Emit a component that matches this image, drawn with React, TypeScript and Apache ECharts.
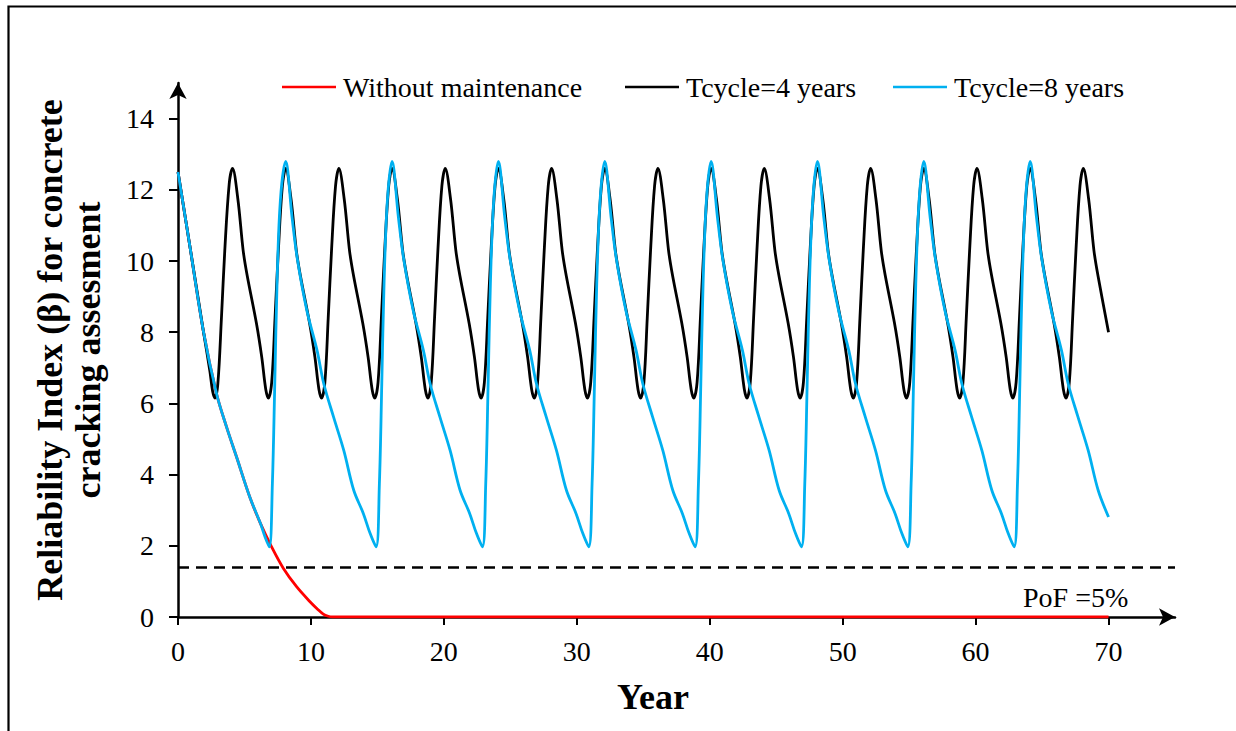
import React, { useEffect, useRef } from "react";
import * as echarts from "echarts";

// ---- data ----
const xTicks = [0, 10, 20, 30, 40, 50, 60, 70];
const yTicks = [0, 2, 4, 6, 8, 10, 12, 14];
const pofLevel = 1.4;

const seriesNames = ["Without maintenance", "Tcycle=4 years", "Tcycle=8 years"];

const withoutMaintenance: [number, number][] = [
  [0, 12.5], [0.9, 10.4], [1.9, 8.05], [2.9, 6.27], [3.65, 5.34], [4.4, 4.5], [5.4, 3.37],
  [6.2, 2.63], [7.04, 1.97], [7.92, 1.37], [8.92, 0.85], [9.93, 0.43], [10.5, 0.22],
  [10.93, 0.08], [11.3, 0.02], [11.6, 0], [70, 0],
];

const tcycle4: [number, number][] = [
  [0, 12.5], [0.9, 10.4], [1.9, 8.05], [2.4, 6.9], [2.6, 6.35], [2.78, 6.15], [3.0, 6.56], [3.27, 8.42], [3.52, 10.3], [3.85, 12.16],
  [4.1, 12.6], [4.5, 11.75], [4.9, 10.3], [5.2, 9.6], [5.9, 8.25], [6.3, 7.3], [6.6, 6.4], [6.8, 6.15], [7.05, 6.6], [7.3, 8.4], [7.55, 10.3], [7.85, 12.1],
  [8.1, 12.6], [8.5, 11.75], [8.9, 10.3], [9.2, 9.6], [9.9, 8.25], [10.3, 7.3], [10.6, 6.4], [10.8, 6.15], [11.05, 6.6], [11.3, 8.4], [11.55, 10.3], [11.85, 12.1],
  [12.1, 12.6], [12.5, 11.75], [12.9, 10.3], [13.2, 9.6], [13.9, 8.25], [14.3, 7.3], [14.6, 6.4], [14.8, 6.15], [15.05, 6.6], [15.3, 8.4], [15.55, 10.3], [15.85, 12.1],
  [16.1, 12.6], [16.5, 11.75], [16.9, 10.3], [17.2, 9.6], [17.9, 8.25], [18.3, 7.3], [18.6, 6.4], [18.8, 6.15], [19.05, 6.6], [19.3, 8.4], [19.55, 10.3], [19.85, 12.1],
  [20.1, 12.6], [20.5, 11.75], [20.9, 10.3], [21.2, 9.6], [21.9, 8.25], [22.3, 7.3], [22.6, 6.4], [22.8, 6.15], [23.05, 6.6], [23.3, 8.4], [23.55, 10.3], [23.85, 12.1],
  [24.1, 12.6], [24.5, 11.75], [24.9, 10.3], [25.2, 9.6], [25.9, 8.25], [26.3, 7.3], [26.6, 6.4], [26.8, 6.15], [27.05, 6.6], [27.3, 8.4], [27.55, 10.3], [27.85, 12.1],
  [28.1, 12.6], [28.5, 11.75], [28.9, 10.3], [29.2, 9.6], [29.9, 8.25], [30.3, 7.3], [30.6, 6.4], [30.8, 6.15], [31.05, 6.6], [31.3, 8.4], [31.55, 10.3], [31.85, 12.1],
  [32.1, 12.6], [32.5, 11.75], [32.9, 10.3], [33.2, 9.6], [33.9, 8.25], [34.3, 7.3], [34.6, 6.4], [34.8, 6.15], [35.05, 6.6], [35.3, 8.4], [35.55, 10.3], [35.85, 12.1],
  [36.1, 12.6], [36.5, 11.75], [36.9, 10.3], [37.2, 9.6], [37.9, 8.25], [38.3, 7.3], [38.6, 6.4], [38.8, 6.15], [39.05, 6.6], [39.3, 8.4], [39.55, 10.3], [39.85, 12.1],
  [40.1, 12.6], [40.5, 11.75], [40.9, 10.3], [41.2, 9.6], [41.9, 8.25], [42.3, 7.3], [42.6, 6.4], [42.8, 6.15], [43.05, 6.6], [43.3, 8.4], [43.55, 10.3], [43.85, 12.1],
  [44.1, 12.6], [44.5, 11.75], [44.9, 10.3], [45.2, 9.6], [45.9, 8.25], [46.3, 7.3], [46.6, 6.4], [46.8, 6.15], [47.05, 6.6], [47.3, 8.4], [47.55, 10.3], [47.85, 12.1],
  [48.1, 12.6], [48.5, 11.75], [48.9, 10.3], [49.2, 9.6], [49.9, 8.25], [50.3, 7.3], [50.6, 6.4], [50.8, 6.15], [51.05, 6.6], [51.3, 8.4], [51.55, 10.3], [51.85, 12.1],
  [52.1, 12.6], [52.5, 11.75], [52.9, 10.3], [53.2, 9.6], [53.9, 8.25], [54.3, 7.3], [54.6, 6.4], [54.8, 6.15], [55.05, 6.6], [55.3, 8.4], [55.55, 10.3], [55.85, 12.1],
  [56.1, 12.6], [56.5, 11.75], [56.9, 10.3], [57.2, 9.6], [57.9, 8.25], [58.3, 7.3], [58.6, 6.4], [58.8, 6.15], [59.05, 6.6], [59.3, 8.4], [59.55, 10.3], [59.85, 12.1],
  [60.1, 12.6], [60.5, 11.75], [60.9, 10.3], [61.2, 9.6], [61.9, 8.25], [62.3, 7.3], [62.6, 6.4], [62.8, 6.15], [63.05, 6.6], [63.3, 8.4], [63.55, 10.3], [63.85, 12.1],
  [64.1, 12.6], [64.5, 11.75], [64.9, 10.3], [65.2, 9.6], [65.9, 8.25], [66.3, 7.3], [66.6, 6.4], [66.8, 6.15], [67.05, 6.6], [67.3, 8.4], [67.55, 10.3], [67.85, 12.1],
  [68.1, 12.6], [68.5, 11.75], [68.9, 10.3], [69.2, 9.6], [70, 8.0],
];

const tcycle8: [number, number][] = [
  [0, 12.5], [0.9, 10.4], [1.9, 8.05], [2.9, 6.27], [3.65, 5.34], [4.4, 4.5], [5.4, 3.37], [6.2, 2.63], [6.55, 2.25], [6.87, 1.97], [7.1, 3.75], [7.28, 6.56], [7.45, 9.36], [7.7, 11.7],
  [8.1, 12.8], [8.58, 11.23], [8.96, 10.1], [9.7, 8.6], [10.46, 7.49], [10.96, 6.56], [11.7, 5.62], [12.47, 4.68], [13.22, 3.56], [13.94, 2.91], [14.45, 2.35], [14.9, 1.97], [15.15, 3.75], [15.33, 6.56], [15.5, 9.36], [15.75, 11.7],
  [16.1, 12.8], [16.58, 11.23], [16.96, 10.1], [17.7, 8.6], [18.46, 7.49], [18.96, 6.56], [19.7, 5.62], [20.47, 4.68], [21.22, 3.56], [21.94, 2.91], [22.45, 2.35], [22.9, 1.97], [23.15, 3.75], [23.33, 6.56], [23.5, 9.36], [23.75, 11.7],
  [24.1, 12.8], [24.58, 11.23], [24.96, 10.1], [25.7, 8.6], [26.46, 7.49], [26.96, 6.56], [27.7, 5.62], [28.47, 4.68], [29.22, 3.56], [29.94, 2.91], [30.45, 2.35], [30.9, 1.97], [31.15, 3.75], [31.33, 6.56], [31.5, 9.36], [31.75, 11.7],
  [32.1, 12.8], [32.58, 11.23], [32.96, 10.1], [33.7, 8.6], [34.46, 7.49], [34.96, 6.56], [35.7, 5.62], [36.47, 4.68], [37.22, 3.56], [37.94, 2.91], [38.45, 2.35], [38.9, 1.97], [39.15, 3.75], [39.33, 6.56], [39.5, 9.36], [39.75, 11.7],
  [40.1, 12.8], [40.58, 11.23], [40.96, 10.1], [41.7, 8.6], [42.46, 7.49], [42.96, 6.56], [43.7, 5.62], [44.47, 4.68], [45.22, 3.56], [45.94, 2.91], [46.45, 2.35], [46.9, 1.97], [47.15, 3.75], [47.33, 6.56], [47.5, 9.36], [47.75, 11.7],
  [48.1, 12.8], [48.58, 11.23], [48.96, 10.1], [49.7, 8.6], [50.46, 7.49], [50.96, 6.56], [51.7, 5.62], [52.47, 4.68], [53.22, 3.56], [53.94, 2.91], [54.45, 2.35], [54.9, 1.97], [55.15, 3.75], [55.33, 6.56], [55.5, 9.36], [55.75, 11.7],
  [56.1, 12.8], [56.58, 11.23], [56.96, 10.1], [57.7, 8.6], [58.46, 7.49], [58.96, 6.56], [59.7, 5.62], [60.47, 4.68], [61.22, 3.56], [61.94, 2.91], [62.45, 2.35], [62.9, 1.97], [63.15, 3.75], [63.33, 6.56], [63.5, 9.36], [63.75, 11.7],
  [64.1, 12.8], [64.58, 11.23], [64.96, 10.1], [65.7, 8.6], [66.46, 7.49], [66.96, 6.56], [67.7, 5.62], [68.47, 4.68], [69.22, 3.56], [70, 2.81],
];

const FONT = "Liberation Serif, serif";

export default function App() {
  const ref = useRef<HTMLDivElement>(null);

  useEffect(() => {
    if (!ref.current) return;
    const chart = echarts.init(ref.current, null, { renderer: "svg" });

    const legendBase = {
      top: 68,
      icon: "rect",
      itemWidth: 54,
      itemHeight: 2.5,
      itemGap: 0,
      textStyle: { fontFamily: FONT, fontSize: 28, color: "#000", padding: [0, 0, 0, 2] },
      selectedMode: false,
    };

    chart.setOption({
      animation: false,
      backgroundColor: "#fff",
      grid: { left: 178, right: 61, top: 83, bottom: 114, containLabel: false, outerBoundsMode: "none" },
      legend: [
        { ...legendBase, left: 277, data: [seriesNames[0]] },
        { ...legendBase, left: 620, data: [seriesNames[1]] },
        { ...legendBase, left: 888, data: [seriesNames[2]] },
      ],
      xAxis: {
        type: "value",
        min: 0,
        max: 75,
        splitLine: { show: false },
        axisLine: {
          show: true,
          onZero: false,
          symbol: ["none", "arrow"],
          symbolSize: [13, 16],
          lineStyle: { color: "#000", width: 2.5 },
        },
        axisTick: { show: true, inside: false, length: 8, customValues: xTicks, lineStyle: { color: "#000", width: 2 } },
        axisLabel: { customValues: xTicks, margin: 20, fontFamily: FONT, fontSize: 28, color: "#000" },
      },
      yAxis: {
        type: "value",
        min: 0,
        max: 15,
        splitLine: { show: false },
        axisLine: {
          show: true,
          onZero: false,
          symbol: ["none", "arrow"],
          symbolSize: [13, 16],
          lineStyle: { color: "#000", width: 2.5 },
        },
        axisTick: { show: true, inside: false, length: 9, customValues: yTicks, lineStyle: { color: "#000", width: 2 } },
        axisLabel: { customValues: yTicks, margin: 24, fontFamily: FONT, fontSize: 28, color: "#000" },
      },
      series: [
        {
          name: seriesNames[0],
          type: "line",
          data: withoutMaintenance,
          symbol: "none",
          smooth: 0.35,
          color: "#FF0000",
          lineStyle: { color: "#FF0000", width: 2.8 },
          markLine: {
            silent: true,
            symbol: ["none", "none"],
            label: { show: false },
            lineStyle: { color: "#000", width: 2.5, type: [11, 7] },
            data: [{ yAxis: pofLevel }],
          },
        },
        {
          name: seriesNames[1],
          type: "line",
          data: tcycle4,
          symbol: "none",
          smooth: 0.35,
          color: "#000000",
          lineStyle: { color: "#000000", width: 2.8 },
        },
        {
          name: seriesNames[2],
          type: "line",
          data: tcycle8,
          symbol: "none",
          smooth: 0.35,
          color: "#00B0F0",
          lineStyle: { color: "#00B0F0", width: 2.8 },
        },
      ],
      graphic: [
        {
          type: "rect",
          silent: true,
          shape: { x: 8.5, y: 6.5, width: 1400, height: 900 },
          style: { fill: "none", stroke: "#000", lineWidth: 2.2 },
        },
        {
          type: "text",
          silent: true,
          x: 69,
          y: 350,
          rotation: Math.PI / 2,
          style: {
            text: "Reliability Index (β) for concrete\ncracking assesment",
            fontFamily: FONT,
            fontSize: 36,
            fontWeight: "bold",
            lineHeight: 38,
            fill: "#000",
            align: "center",
            verticalAlign: "middle",
          },
        },
        {
          type: "text",
          silent: true,
          x: 653,
          y: 697,
          style: {
            text: "Year",
            fontFamily: FONT,
            fontSize: 36,
            fontWeight: "bold",
            fill: "#000",
            align: "center",
            verticalAlign: "middle",
          },
        },
        {
          type: "text",
          silent: true,
          x: 1023,
          y: 597,
          style: {
            text: "PoF =5%",
            fontFamily: FONT,
            fontSize: 28,
            fill: "#000",
            align: "left",
            verticalAlign: "middle",
          },
        },
      ],
    });

    return () => chart.dispose();
  }, []);

  return (
    <div
      ref={ref}
      style={{ position: "fixed", left: 0, top: 0, width: 1236, height: 731, background: "#fff" }}
    />
  );
}
